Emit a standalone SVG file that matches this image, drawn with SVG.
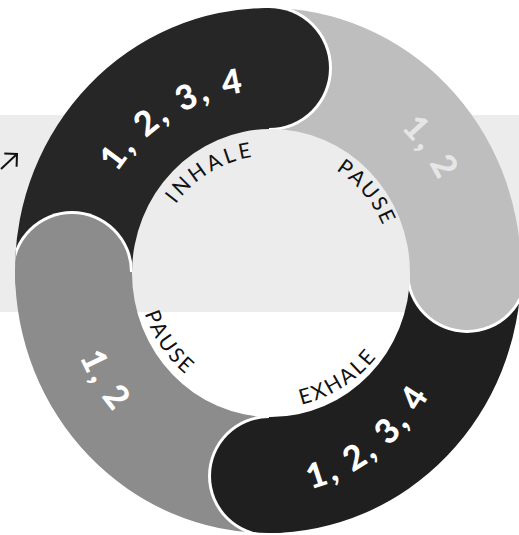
<svg xmlns="http://www.w3.org/2000/svg" width="519" height="535" viewBox="0 0 519 535">
<style>
.num{font-family:Lato,"Open Sans","DejaVu Sans",sans-serif;font-weight:900;font-size:34px;letter-spacing:3px;fill:#ffffff;text-anchor:middle}
.lbl{font-family:Lato,"Noto Sans","DejaVu Sans",sans-serif;font-size:21px;fill:#111111;text-anchor:middle}
.halo{fill:#ffffff}
.dark1{fill:#262626}
.light{fill:#bebebe}
.dark2{fill:#1f1f1f}
.mid{fill:#8c8c8c}
.conn{fill:none;stroke:#111111;stroke-width:2}
</style>
<defs>
<path id="ring" fill-rule="evenodd" d="M15 270.5A253 262.5 0 1 1 521 270.5A253 262.5 0 1 1 15 270.5Z M132 273A139 144 0 1 0 410 273A139 144 0 1 0 132 273Z"/>
<clipPath id="ringClip"><path clip-rule="evenodd" d="M15 270.5A253 262.5 0 1 1 521 270.5A253 262.5 0 1 1 15 270.5Z M132 273A139 144 0 1 0 410 273A139 144 0 1 0 132 273Z"/></clipPath>
<clipPath id="qTL"><rect x="0" y="0" width="269" height="272"/></clipPath>
<clipPath id="qTR"><path d="M269 0H530V272H269V131A63 63 0 0 0 269 5Z"/></clipPath>
<clipPath id="qBR"><path d="M269 272H406A61 61 0 0 0 528 272H530V540H269Z"/></clipPath>
<clipPath id="qBL"><path d="M0 272H269V415A61 61 0 0 0 269 537V540H0Z"/></clipPath>
<path id="pTL" d="M89.3 246.7A181.5 181.5 0 0 1 325.1 99.4"/>
<path id="pTR" d="M312.1 79.6A191.5 197.5 0 0 1 460.2 282.3"/>
<path id="pBR" d="M212.8 484.7A192.5 222.5 0 0 0 460.1 299.1"/>
<path id="pBL" d="M64.0 246.1A206.5 212.5 0 0 0 208.6 475.2"/>
<path id="lTL" d="M154.9 254.6A117.5 117.5 0 0 1 309.3 161.9"/>
<path id="lTR" d="M271 151.5A121.5 121.5 0 0 1 390.7 294.1"/>
<path id="lBL" d="M143.4 237.1A132.5 132.5 0 0 0 257.8 404.9"/>
<path id="lBR" d="M230.4 401.7A135 135 0 0 0 404.8 290.6"/>
<marker id="head" markerUnits="userSpaceOnUse" markerWidth="14" markerHeight="20" refX="9" refY="9" orient="auto" viewBox="-1 -1 12 20">
<path d="M0 0L9 9L0 18" fill="none" stroke="#111111" stroke-width="2"/>
</marker>
</defs>
<rect x="0" y="0" width="519" height="535" fill="#ffffff"/>
<rect x="0" y="115" width="519" height="197" fill="#ececec"/>

<g id="inhale">
<use href="#ring" class="dark1" clip-path="url(#qTL)"/>
<g clip-path="url(#ringClip)">
<path class="halo" d="M269 5A63 63 0 0 1 269 131Z"/>
<circle class="dark1" cx="269" cy="68" r="60"/>
</g>
<text class="num"><textPath href="#pTL" startOffset="50%">1, 2, 3, 4</textPath></text>
<text class="lbl" letter-spacing="3.4"><textPath href="#lTL" startOffset="50%">INHALE</textPath></text>
</g>

<g id="pause-top">
<use href="#ring" class="light" clip-path="url(#qTR)"/>
<g clip-path="url(#ringClip)">
<path class="halo" d="M528 272A61 61 0 0 1 406 272Z"/>
<circle class="light" cx="467" cy="272" r="58"/>
</g>
<text class="num" style="fill:#e6e6e6"><textPath href="#pTR" startOffset="50%">1, 2</textPath></text>
<text class="lbl" letter-spacing="2.2"><textPath href="#lTR" startOffset="50%">PAUSE</textPath></text>
</g>

<g id="exhale">
<use href="#ring" class="dark2" clip-path="url(#qBR)"/>
<g clip-path="url(#ringClip)">
<path class="halo" d="M269 537A61 61 0 0 1 269 415Z"/>
<circle class="dark2" cx="269" cy="476" r="58"/>
</g>
<text class="num"><textPath href="#pBR" startOffset="50%">1, 2, 3, 4</textPath></text>
<text class="lbl" letter-spacing="2.2"><textPath href="#lBR" startOffset="50%">EXHALE</textPath></text>
</g>

<g id="pause-bottom">
<use href="#ring" class="mid" clip-path="url(#qBL)"/>
<g clip-path="url(#ringClip)">
<path class="halo" d="M11 272A61 61 0 0 1 133 272Z"/>
<circle class="mid" cx="72" cy="272" r="58"/>
</g>
<text class="num"><textPath href="#pBL" startOffset="50%">1, 2</textPath></text>
<text class="lbl" letter-spacing="2.4"><textPath href="#lBL" startOffset="50%">PAUSE</textPath></text>
</g>

<g id="connectors">
<path class="conn" d="M1 169L17 154" marker-end="url(#head)"/>
</g>
</svg>
